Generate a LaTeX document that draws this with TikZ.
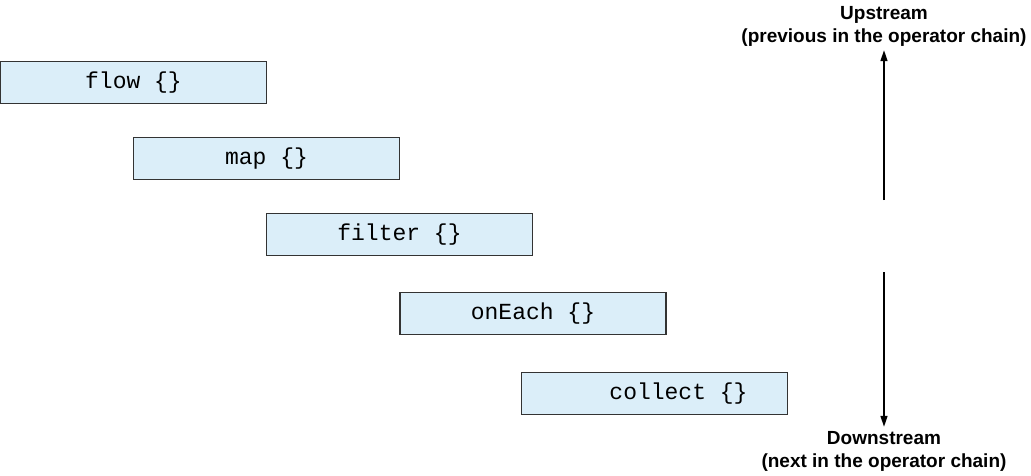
\documentclass[tikz,border=0pt]{standalone}
\usepackage{fontspec}
\setmainfont{Liberation Sans}
\setmonofont{Liberation Mono}
\usepackage{tikz}
\usetikzlibrary{arrows.meta,positioning}
\definecolor{opfill}{RGB}{219,238,249}
\definecolor{opdraw}{RGB}{51,51,51}

\begin{document}
\begin{tikzpicture}[x=1pt, y=-1pt, >={Triangle[length=11pt,width=7pt]},
  opbox/.style={draw=opdraw, fill=opfill, line width=1.4pt,
    minimum width=266pt, minimum height=42pt, inner sep=0pt,
    font=\fontsize{23}{26}\selectfont\ttfamily},
  dirlbl/.style={font=\fontsize{19}{23}\selectfont\bfseries, align=center,
    inner sep=2pt}]
\useasboundingbox (0,0) rectangle (1031,476);
% Operator boxes
\node[opbox] (flow)    at (133.5, 82.5)  {flow \{\}};
\node[opbox] (map)     at (266.5, 158.5) {map \{\}};
\node[opbox] (filter)  at (399.5, 234.5) {filter \{\}};
\node[opbox] (onEach)  at (533,   313.5) {onEach \{\}};
\node[opbox] (collect) at (654.5, 393.5) {\hspace*{48pt}collect \{\}};
% Direction labels
\node[dirlbl] (up)   at (884, 26)  {Upstream\\(previous in the operator chain)};
\node[dirlbl] (down) at (884, 451) {Downstream\\(next in the operator chain)};
\coordinate (upfoot)   at (884, 200);
\coordinate (downhead) at (884, 272);
% Arrows
\draw[->, line width=1.4pt, shorten >=2pt] (upfoot) -- (up);
\draw[->, line width=1.4pt, shorten >=2pt] (downhead) -- (down);
\end{tikzpicture}
\end{document}
